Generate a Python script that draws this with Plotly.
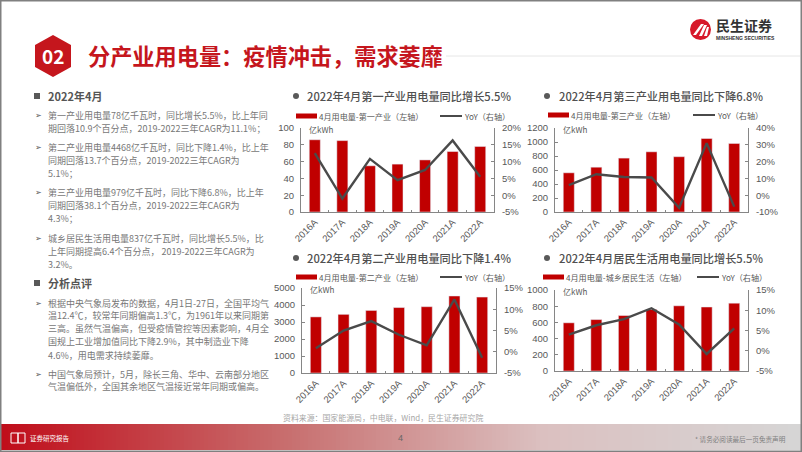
import plotly.graph_objects as go

W, H = 802, 452
CATEGORIES = ["2016A", "2017A", "2018A", "2019A", "2020A", "2021A", "2022A"]

PRIMARY_VALUES = [86, 85, 55, 57, 62, 72, 78]
PRIMARY_YOY = [12.5, -1.0, 10.8, 4.5, 7.5, 16.3, 5.5]
TERTIARY_VALUES = [560, 640, 770, 860, 790, 1050, 979]
TERTIARY_YOY = [6.0, 12.5, 10.8, 10.5, -7.5, 31.0, -6.8]
SECONDARY_VALUES = [3300, 3450, 3680, 3850, 3900, 4530, 4468]
SECONDARY_YOY = [0.8, 5.0, 7.2, 4.0, 1.5, 12.3, -1.4]
RESIDENT_VALUES = [595, 635, 685, 760, 805, 790, 837]
RESIDENT_YOY = [4.0, 6.3, 7.8, 10.5, 6.5, -0.8, 5.5]

PRIMARY_TITLE = "2022年4月第一产业用电量同比增长5.5%"
TERTIARY_TITLE = "2022年4月第三产业用电量同比下降6.8%"
SECONDARY_TITLE = "2022年4月第二产业用电量同比下降1.4%"
RESIDENT_TITLE = "2022年4月居民生活用电量同比增长5.5%"

PAGE_TITLE = "分产业用电量：疫情冲击，需求萎靡"
SOURCE = "资料来源：国家能源局，中电联，Wind，民生证券研究院"
BODY_1 = [
    "第一产业用电量78亿千瓦时，同比增长5.5%，比上年同",
    "期回落10.9个百分点，2019-2022三年CAGR为11.1%；",
    "第二产业用电量4468亿千瓦时，同比下降1.4%，比上年",
    "同期回落13.7个百分点，2019-2022三年CAGR为",
    "5.1%；",
    "第三产业用电量979亿千瓦时，同比下降6.8%，比上年",
    "同期回落38.1个百分点，2019-2022三年CAGR为",
    "4.3%；",
    "城乡居民生活用电量837亿千瓦时，同比增长5.5%，比",
    "上年同期提高6.4个百分点， 2019-2022三年CAGR为",
    "3.2%。",
]
BODY_2 = [
    "根据中央气象局发布的数据，4月1日-27日，全国平均气",
    "温12.4℃，较常年同期偏高1.3℃，为1961年以来同期第",
    "三高。虽然气温偏高，但受疫情管控等因素影响，4月全",
    "国规上工业增加值同比下降2.9%，其中制造业下降",
    "4.6%，用电需求持续萎靡。",
    "中国气象局预计，5月，除长三角、华中、云南部分地区",
    "气温偏低外，全国其余地区气温接近常年同期或偏高。",
]

RED, DARK, TEXT = "#c00000", "#4a4a4a", "#595959"
CJK = "Noto Sans CJK SC"
LAT = "Liberation Sans"


def px(x):
    return x / W


def py(y):
    return 1 - y / H


shapes, notes = [], []


def rect(x0, y0, x1, y1, fill, line=None, lw=0):
    shapes.append(dict(type="rect", xref="paper", yref="paper", x0=px(x0), x1=px(x1),
                       y0=py(y1), y1=py(y0), fillcolor=fill,
                       line=dict(color=line or fill, width=lw), layer="below"))


def text(x, y, s, size=9.5, color=TEXT, family=CJK, anchor="left", weight=None):
    f = dict(size=size, color=color, family=family)
    if weight:
        f["weight"] = weight
    notes.append(dict(x=x, y=y, xref="x5", yref="y9", text=s, showarrow=False,
                      xanchor=anchor, yanchor="middle", font=f, borderpad=0, borderwidth=0))


def poly(points, fill):
    path = "M " + " L ".join(f"{px(a):.5f} {py(b):.5f}" for a, b in points) + " Z"
    shapes.append(dict(type="path", xref="paper", yref="paper", path=path,
                       fillcolor=fill, line=dict(width=0), layer="above"))


# footer gradient
stops = [(0, (192, 13, 26)), (290, (200, 112, 112)), (540, (219, 192, 192)), (802, (214, 214, 214))]
for x in range(0, W, 4):
    for (a, ca), (b, cb) in zip(stops, stops[1:]):
        if a <= x < b:
            t = (x - a) / (b - a)
            c = [round(u + (v - u) * t) for u, v in zip(ca, cb)]
            rect(x, 424, x + 4.5, 450, f"rgb({c[0]},{c[1]},{c[2]})")
            break

# frame and header rule
shapes.append(dict(type="rect", xref="paper", yref="paper", x0=0, x1=1, y0=0, y1=1,
                   fillcolor="rgba(0,0,0,0)", line=dict(color="#808080", width=3), layer="above"))
shapes.append(dict(type="line", xref="paper", yref="paper", x0=px(446), x1=px(800), y0=py(56), y1=py(56),
                   line=dict(color="#e6e6e6", width=1), layer="below"))

# page badge
poly([(53, 35), (71, 45), (71, 67), (53, 77), (35, 67), (35, 45)], "#c5161d")
text(53, 55, "02", size=19, color="white", family=CJK, anchor="center", weight=700)
text(88, 55, PAGE_TITLE, size=22.2, color="#c5161d", weight=700)

# logo
shapes.append(dict(type="circle", xref="paper", yref="paper", x0=px(690), x1=px(711), y0=py(40), y1=py(19),
                   fillcolor="#d7182a", line=dict(width=0), layer="above"))
poly([(693, 35), (701, 24), (704, 24), (696, 35)], "white")
poly([(699, 36), (704, 25), (707, 25), (702, 36)], "white")
poly([(704, 36), (707, 27), (709, 27), (707, 36)], "white")
text(716, 25, "民生证券", size=14, color="#333333", weight=700)
text(716, 38, "MINSHENG SECURITIES", size=5, color="#333333", family=LAT, weight=700)

# left column
for y, s in [(96, "2022年4月"), (283, "分析点评")]:
    rect(34, y - 3, 40, y + 3, "#595959")
    text(48, y, s, size=11, color="#555555", weight=700)
body1_y = [115.5, 128, 147, 160.5, 173, 192.5, 205, 218, 238, 251, 264]
body2_y = [303, 315, 328, 341, 355, 374, 386.5]
for s, y in zip(BODY_1 + BODY_2, body1_y + body2_y):
    text(48, y, s, size=9, color="#777777")
for y in [115.5, 147, 192.5, 238, 303, 374]:
    text(35, y, "➢", size=8, color="#555555", family="DejaVu Sans")

# footer content
text(283, 417, SOURCE, size=7.9, color="#a6a6a6")
text(30, 438, "证券研究报告", size=6.5, color="white")
text(400, 438, "4", size=9, color="#666666", family=LAT, anchor="center")
text(786, 439, "* 请务必阅读最后一页免责声明", size=6.6, color="#808080", anchor="right")
for a, b in [(11, 18), (18, 25)]:
    rect(a, 433, b, 443, "rgba(0,0,0,0)", "white", 1)
shapes[-1]["layer"] = shapes[-2]["layer"] = "above"

charts = [
    dict(v=PRIMARY_VALUES, g=PRIMARY_YOY, title=PRIMARY_TITLE, leg="4月用电量-第一产业（左轴）",
         box=(301, 128, 494, 212), lt=[0, 20, 40, 60, 80, 100], lr=[0, 100],
         rt=[-5, 0, 5, 10, 15, 20], bx=296, tx=307, ty=96, s1=296, s2=440, ly=116),
    dict(v=TERTIARY_VALUES, g=TERTIARY_YOY, title=TERTIARY_TITLE, leg="4月用电量-第三产业（左轴）",
         box=(555, 128, 748, 212), lt=[0, 200, 400, 600, 800, 1000, 1200], lr=[0, 1200],
         rt=[-10, 0, 10, 20, 30, 40], bx=547, tx=559, ty=96, s1=548, s2=693, ly=115),
    dict(v=SECONDARY_VALUES, g=SECONDARY_YOY, title=SECONDARY_TITLE, leg="4月用电量-第二产业（左轴）",
         box=(302, 288, 496, 373), lt=[0, 1000, 2000, 3000, 4000, 5000], lr=[0, 5000],
         rt=[-5, 0, 5, 10, 15], bx=296, tx=307, ty=258, s1=296, s2=440, ly=277),
    dict(v=RESIDENT_VALUES, g=RESIDENT_YOY, title=RESIDENT_TITLE, leg="4月用电量-城乡居民生活（左轴）",
         box=(555, 290, 748, 371), lt=[0, 200, 400, 600, 800, 1000], lr=[0, 1000],
         rt=[-5, 0, 5, 10, 15], bx=547, tx=559, ty=258, s1=543, s2=697, ly=277),
]

fig = go.Figure()
layout = {}
AX = dict(showgrid=False, zeroline=False, showline=True, linecolor="#868686", linewidth=1, automargin=False,
          tickfont=dict(size=9.5, color=TEXT, family=LAT))
for i, c in enumerate(charts):
    n = i + 1
    xa, ya, yb = f"x{n}", f"y{2*i+1}", f"y{2*i+2}"
    fig.add_trace(go.Bar(x=CATEGORIES, y=c["v"], xaxis=xa, yaxis=ya, marker_color=RED, showlegend=False,
                         width=0.4))
    fig.add_trace(go.Scatter(x=CATEGORIES, y=c["g"], xaxis=xa, yaxis=yb, mode="lines", showlegend=False,
                             line=dict(color=DARK, width=2.4)))
    x0, y0, x1, y1 = c["box"]
    layout[f"xaxis{n}"] = dict(AX, domain=[px(x0), px(x1)], anchor=ya, type="category", tickangle=-45,
                               ticks="inside", ticklen=2, tickcolor="#868686", tickson="boundaries",
                               range=[-0.5, 6.5])
    layout[f"yaxis{2*i+1}"] = dict(AX, domain=[py(y1), py(y0)], anchor=xa, range=c["lr"], tickvals=c["lt"],
                                   ticktext=[str(t) for t in c["lt"]], ticks="inside", ticklen=3,
                                   tickcolor="#868686", ticklabelstandoff=4)
    layout[f"yaxis{2*i+2}"] = dict(AX, domain=[py(y1), py(y0)], anchor=xa, overlaying=ya, side="right",
                                   range=[c["rt"][0], c["rt"][-1]], tickvals=c["rt"],
                                   ticktext=[f"{t}%" for t in c["rt"]], ticks="inside", ticklen=3,
                                   tickcolor="#868686", ticklabelstandoff=5)
    shapes.append(dict(type="circle", xref="paper", yref="paper", x0=px(c["bx"] - 3), x1=px(c["bx"] + 3),
                       y0=py(c["ty"] + 3), y1=py(c["ty"] - 3), fillcolor="#595959", line=dict(width=0)))
    text(c["tx"], c["ty"], c["title"], size=11.2, color="#505050", weight=500)
    rect(c["s1"], c["ly"] - 2.5, c["s1"] + 21, c["ly"] + 2.5, RED)
    text(c["s1"] + 23, c["ly"], c["leg"], size=8.1, color=TEXT)
    rect(c["s2"], c["ly"] - 1, c["s2"] + 22, c["ly"] + 1, DARK)
    text(c["s2"] + 24, c["ly"], "YoY（右轴）", size=8.1, color=TEXT)
    text(x0 + 8, y0 + 1.5, "亿kWh", size=8, color=TEXT)

# full-page invisible axes used to place page text in pixels
fig.add_trace(go.Scatter(x=[0], y=[0], xaxis="x5", yaxis="y9", mode="markers", marker=dict(opacity=0),
                         hoverinfo="skip", showlegend=False))
layout["xaxis5"] = dict(domain=[0, 1], range=[0, W], visible=False, anchor="y9", fixedrange=True, automargin=False)
layout["yaxis9"] = dict(domain=[0, 1], range=[H, 0], visible=False, anchor="x5", fixedrange=True, automargin=False)

fig.update_layout(width=W, height=H, margin=dict(l=0, r=0, t=0, b=0), autosize=False,
                  paper_bgcolor="white", plot_bgcolor="rgba(0,0,0,0)", shapes=shapes, annotations=notes,
                  font=dict(family=CJK), **layout)
fig.write_html("out.html", config=dict(displayModeBar=False, responsive=False),
               post_script="document.body.style.margin='0';document.documentElement.style.overflow='hidden';")
